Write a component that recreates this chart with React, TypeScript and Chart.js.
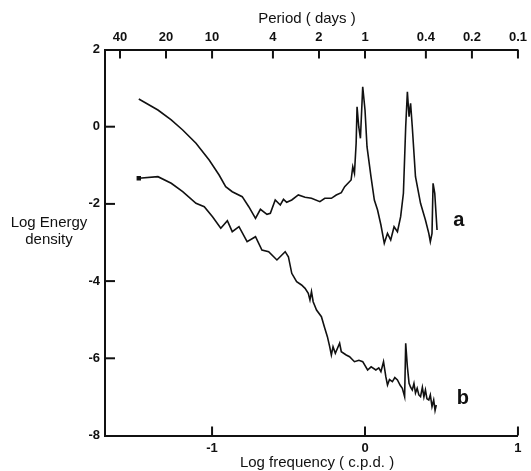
import React, { useEffect, useRef } from "react";
import { Chart, registerables } from "chart.js";

Chart.register(...registerables);

// Curve a (log frequency, log energy density)
const aLogFreq = [
  -1.479, -1.354, -1.267, -1.192, -1.105, -1.019, -0.954, -0.911, -0.868, -0.803,
  -0.760, -0.716, -0.684, -0.641, -0.619, -0.587, -0.554, -0.533, -0.512, -0.479,
  -0.436, -0.392, -0.350, -0.295, -0.263, -0.220, -0.188, -0.155, -0.133, -0.091,
  -0.080, -0.069, -0.058, -0.052, -0.041, -0.030, -0.015, 0.0, 0.013, 0.039,
  0.061, 0.082, 0.104, 0.126, 0.147, 0.168, 0.190, 0.212, 0.233, 0.251,
  0.266, 0.277, 0.288, 0.298, 0.309, 0.330, 0.363, 0.395, 0.417, 0.427,
  0.438, 0.445, 0.456, 0.460, 0.471,
];
const aLogEnergy = [
  0.718, 0.433, 0.174, -0.085, -0.430, -0.863, -1.251, -1.554, -1.684, -1.813,
  -2.073, -2.373, -2.140, -2.269, -2.244, -1.899, -2.028, -1.881, -1.959, -1.899,
  -1.769, -1.829, -1.855, -1.943, -1.855, -1.855, -1.769, -1.710, -1.554, -1.381,
  -1.036, -1.207, -0.430, 0.518, 0.0, -0.301, 1.036, 0.433, -0.518, -1.295,
  -1.899, -2.158, -2.547, -3.021, -2.762, -2.935, -2.591, -2.720, -2.332, -1.725,
  0.0, 0.907, 0.259, 0.606, 0.0, -1.295, -1.984, -2.417, -2.762, -2.979,
  -2.762, -1.466, -1.725, -1.984, -2.676,
];

// Curve b
const bLogFreq = [
  -1.479, -1.354, -1.267, -1.192, -1.105, -1.051, -0.997, -0.943, -0.900, -0.868,
  -0.824, -0.771, -0.716, -0.674, -0.630, -0.576, -0.522, -0.501, -0.479, -0.447,
  -0.415, -0.392, -0.371, -0.360, -0.350, -0.339, -0.317, -0.285, -0.263, -0.246,
  -0.231, -0.220, -0.209, -0.194, -0.166, -0.155, -0.123, -0.101, -0.069, -0.040,
  -0.015, 0.017, 0.040, 0.071, 0.090, 0.104, 0.121, 0.136, 0.147, 0.160,
  0.179, 0.195, 0.212, 0.230, 0.244, 0.259, 0.266, 0.277, 0.288, 0.298,
  0.309, 0.320, 0.330, 0.341, 0.352, 0.363, 0.375, 0.385, 0.395, 0.405,
  0.417, 0.427, 0.438, 0.449, 0.458, 0.466,
];
const bLogEnergy = [
  -1.337, -1.295, -1.466, -1.684, -1.984, -2.073, -2.332, -2.632, -2.435, -2.720,
  -2.591, -2.979, -2.850, -3.194, -3.238, -3.453, -3.238, -3.368, -3.798, -4.016,
  -4.101, -4.187, -4.316, -4.490, -4.275, -4.534, -4.749, -4.922, -5.223, -5.440,
  -5.699, -5.915, -5.699, -5.870, -5.611, -5.829, -5.915, -5.959, -6.088, -6.050,
  -6.088, -6.303, -6.220, -6.303, -6.250, -6.347, -6.088, -6.477, -6.692, -6.550,
  -6.606, -6.500, -6.562, -6.700, -6.777, -6.995, -5.611, -6.218, -6.648, -6.750,
  -6.821, -6.650, -6.900, -6.777, -6.950, -6.995, -6.750, -7.000, -6.821, -7.050,
  -7.080, -6.950, -7.254, -7.080, -7.350, -7.211,
];

const yTickValues = [-8, -6, -4, -2, 0, 2];
const xTickValues = [-1, 0, 1];
const periodDays = [40, 20, 10, 4, 2, 1, 0.4, 0.2, 0.1];
const periodLabels = ["40", "20", "10", "4", "2", "1", "0.4", "0.2", "0.1"];
const curveNames = ["a", "b"];

const X_MIN = -1.7;
const X_MAX = 1;
const Y_MIN = -8;
const Y_MAX = 2;
const INK = "#111";
const FAMILY = "'Liberation Sans', Arial, sans-serif";

const decorPlugin = {
  id: "decor",
  afterDraw(chart: any) {
    const ctx = chart.ctx as CanvasRenderingContext2D;
    const ca = chart.chartArea;
    const sx = chart.scales.x;
    const sx2 = chart.scales.x2;
    const sy = chart.scales.y;
    ctx.save();
    ctx.strokeStyle = INK;
    ctx.lineWidth = 2;
    const line = (x1: number, y1: number, x2: number, y2: number) => {
      ctx.beginPath();
      ctx.moveTo(x1, y1);
      ctx.lineTo(x2, y2);
      ctx.stroke();
    };
    xTickValues.forEach((v) => {
      const px = sx.getPixelForValue(v);
      line(px, ca.bottom, px, ca.bottom - 9);
    });
    periodDays.forEach((p) => {
      const px = sx2.getPixelForValue(-Math.log10(p));
      line(px, ca.top, px, ca.top + 9);
    });
    yTickValues.forEach((v) => {
      if (v === Y_MAX || v === Y_MIN) return;
      const py = sy.getPixelForValue(v);
      line(ca.left, py, ca.left + 10, py);
    });

    ctx.fillStyle = INK;
    ctx.textAlign = "center";
    ctx.textBaseline = "middle";
    ctx.font = `15px ${FAMILY}`;
    ctx.fillText("Period ( days )", 307, 19);
    ctx.fillText("Log frequency ( c.p.d. )", 317, 463);
    ctx.fillText("Log Energy", 49, 223);
    ctx.fillText("density", 49, 240);

    ctx.font = `bold 20px ${FAMILY}`;
    ctx.fillText(curveNames[0], sx.getPixelForValue(0.613), sy.getPixelForValue(-2.44));
    ctx.fillText(curveNames[1], sx.getPixelForValue(0.639), sy.getPixelForValue(-7.05));
    ctx.restore();
  },
};

export default function App() {
  const ref = useRef<HTMLCanvasElement | null>(null);

  useEffect(() => {
    if (!ref.current) return;
    const tickFont = { family: FAMILY, size: 13, weight: "bold" as const };
    const chart = new Chart(ref.current, {
      type: "line",
      data: {
        datasets: [
          {
            label: curveNames[0],
            data: aLogFreq.map((x, i) => ({ x, y: aLogEnergy[i] })),
            borderColor: INK,
            borderWidth: 1.6,
            pointRadius: 0,
            tension: 0,
            fill: false,
          },
          {
            label: curveNames[1],
            data: bLogFreq.map((x, i) => ({ x, y: bLogEnergy[i] })),
            borderColor: INK,
            backgroundColor: INK,
            borderWidth: 1.6,
            pointRadius: bLogFreq.map((_, i) => (i === 0 ? 2 : 0)),
            pointStyle: "rect",
            tension: 0,
            fill: false,
          },
        ],
      },
      options: {
        animation: false,
        responsive: false,
        devicePixelRatio: 1,
        layout: { padding: { left: 0, top: 0, right: 9.3, bottom: 0 } },
        plugins: { legend: { display: false }, tooltip: { enabled: false } },
        scales: {
          x: {
            type: "linear",
            position: "bottom",
            min: X_MIN,
            max: X_MAX,
            grid: { display: false, drawTicks: false },
            border: { display: true, color: INK, width: 2 },
            ticks: {
              padding: 5,
              color: INK,
              font: tickFont,
              maxRotation: 0,
              autoSkip: false,
              callback: (v: any) => String(v),
            },
            afterBuildTicks: (s: any) => {
              s.ticks = xTickValues.map((v) => ({ value: v }));
            },
            afterFit: (s: any) => {
              s.height = 35.5;
            },
          },
          x2: {
            type: "linear",
            position: "top",
            min: X_MIN,
            max: X_MAX,
            grid: { display: false, drawTicks: false },
            border: { display: true, color: INK, width: 2 },
            ticks: {
              padding: 4,
              color: INK,
              font: tickFont,
              maxRotation: 0,
              autoSkip: false,
              callback: (_v: any, i: number) => periodLabels[i],
            },
            afterBuildTicks: (s: any) => {
              s.ticks = periodDays.map((p) => ({ value: -Math.log10(p) }));
            },
            afterFit: (s: any) => {
              s.height = 49.5;
            },
          },
          y: {
            type: "linear",
            position: "left",
            min: Y_MIN,
            max: Y_MAX,
            grid: { display: false, drawTicks: false },
            border: { display: true, color: INK, width: 2 },
            ticks: {
              padding: 5,
              color: INK,
              font: tickFont,
              autoSkip: false,
              callback: (v: any) => String(v),
            },
            afterBuildTicks: (s: any) => {
              s.ticks = yTickValues.map((v) => ({ value: v }));
            },
            afterFit: (s: any) => {
              s.width = 105;
            },
          },
        },
      },
      plugins: [decorPlugin],
    });
    return () => chart.destroy();
  }, []);

  return (
    <div style={{ position: "absolute", left: 0, top: 0, width: 531, height: 471, background: "#fff" }}>
      <canvas ref={ref} width={531} height={471} style={{ display: "block", width: 531, height: 471 }} />
    </div>
  );
}
